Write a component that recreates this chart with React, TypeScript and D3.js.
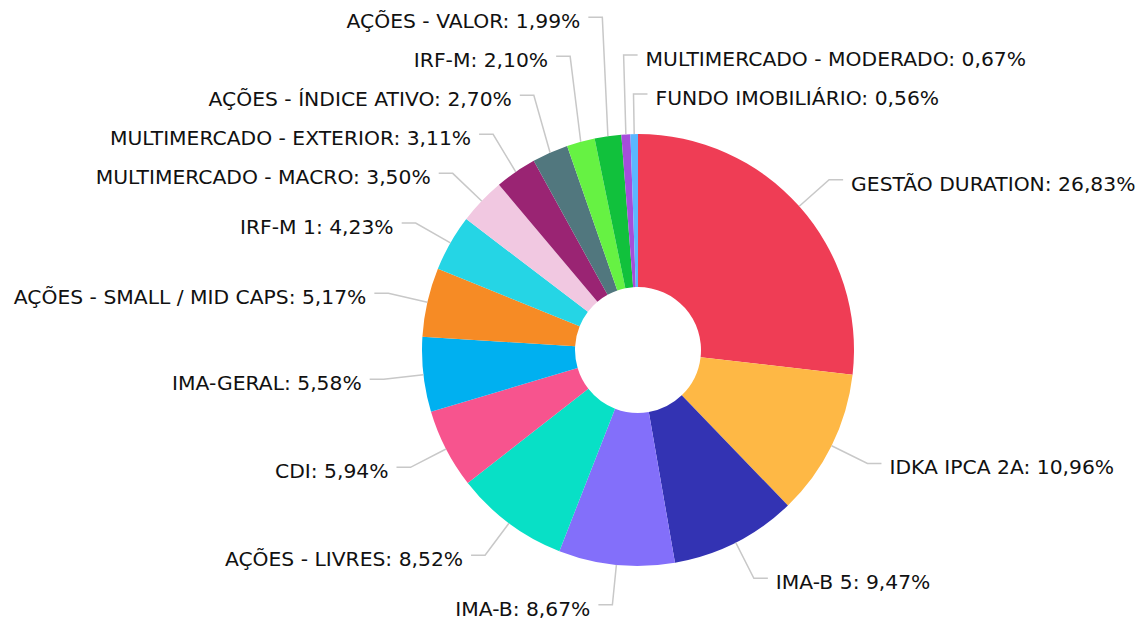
import React from "react";
import * as d3 from "d3";

// carteira por segmento (%), no sentido horário a partir do topo
const categories = [
  "GESTÃO DURATION",
  "IDKA IPCA 2A",
  "IMA-B 5",
  "IMA-B",
  "AÇÕES - LIVRES",
  "CDI",
  "IMA-GERAL",
  "AÇÕES - SMALL / MID CAPS",
  "IRF-M 1",
  "MULTIMERCADO - MACRO",
  "MULTIMERCADO - EXTERIOR",
  "AÇÕES - ÍNDICE ATIVO",
  "IRF-M",
  "AÇÕES - VALOR",
  "MULTIMERCADO - MODERADO",
  "FUNDO IMOBILIÁRIO",
];
const values = [26.83, 10.96, 9.47, 8.67, 8.52, 5.94, 5.58, 5.17, 4.23, 3.5, 3.11, 2.7, 2.1, 1.99, 0.67, 0.56];
const colors = [
  "#ef3d55", "#feb845", "#3333b3", "#836ffa", "#08e0c6", "#f7548e", "#00b0f0", "#f68b25",
  "#25d5e5", "#f1c8e1", "#9a2473", "#51777e", "#66f243", "#11c13c", "#a64ddb", "#5bb7ff",
];

const width = 1142;
const height = 620;
const cx = 638;
const cy = 350;
const outerR = 216;
const innerR = 63;
const len1 = 40; // radial part of the label line
const len2 = 14; // horizontal part
const gap = 39; // min vertical distance between labels

const fmt = (v: number) => v.toFixed(2).replace(".", ",") + "%";

export default function App() {
  const pie = d3
    .pie<number>()
    .sort(null)
    .value((d) => d);
  const arcs = pie(values);
  const arc = d3.arc<d3.PieArcDatum<number>>().innerRadius(innerR).outerRadius(outerR);

  // label positions
  const labels = arcs.map((a, i) => {
    const mid = (a.startAngle + a.endAngle) / 2;
    const s = Math.sin(mid);
    const c = Math.cos(mid);
    const right = s > -0.08;
    return {
      i,
      right,
      mid,
      p1: [cx + outerR * s, cy - outerR * c],
      x2: cx + (outerR + len1) * s,
      y: cy - (outerR + len1) * c,
    };
  });

  // push overlapping labels upward, per side
  [true, false].forEach((side) => {
    const group = labels.filter((l) => l.right === side);
    group.sort((a, b) => {
      const ka = side ? (a.mid > Math.PI ? a.mid - 2 * Math.PI : a.mid) : -a.mid;
      const kb = side ? (b.mid > Math.PI ? b.mid - 2 * Math.PI : b.mid) : -b.mid;
      return ka - kb;
    });
    for (let k = group.length - 2; k >= 0; k--) {
      group[k].y = Math.min(group[k].y, group[k + 1].y - gap);
    }
  });

  return (
    <svg
      width={width}
      height={height}
      style={{ position: "absolute", left: 0, top: 0, background: "#fff" }}
      fontFamily="'DejaVu Sans', Verdana, sans-serif"
    >
      <g>
        {arcs.map((a, i) => (
          <path key={i} d={arc(a) || ""} transform={`translate(${cx},${cy})`} fill={colors[i]} />
        ))}
      </g>
      <g fill="none" stroke="#c8c8c8" strokeWidth={1.5}>
        {labels.map((l) => {
          const x3 = l.x2 + (l.right ? len2 : -len2);
          return <polyline key={l.i} points={`${l.p1[0]},${l.p1[1]} ${l.x2},${l.y} ${x3},${l.y}`} />;
        })}
      </g>
      <g fontSize={20.3} fill="#111">
        {labels.map((l) => (
          <text
            key={l.i}
            x={l.x2 + (l.right ? len2 + 8 : -len2 - 8)}
            y={l.y + 11}
            textAnchor={l.right ? "start" : "end"}
          >
            {`${categories[l.i]}: ${fmt(values[l.i])}`}
          </text>
        ))}
      </g>
    </svg>
  );
}
